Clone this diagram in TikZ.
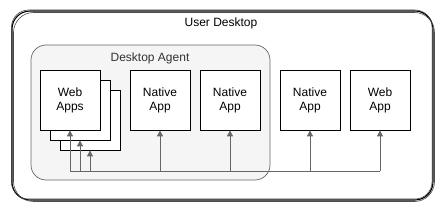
\documentclass[tikz,border=0pt]{standalone}
\usepackage{fontspec}
\setmainfont{Liberation Sans}
\usetikzlibrary{arrows.meta}
\definecolor{conncol}{HTML}{666666}
\definecolor{agentfill}{HTML}{F5F5F5}
\definecolor{agenttext}{HTML}{333333}
\tikzset{
  appbox/.style={draw=black, fill=white, line width=0.8pt, minimum width=60pt, minimum height=60pt, inner sep=0pt, align=center, font=\fontsize{12}{14}\selectfont},
  conn/.style={draw=conncol, line width=0.8pt, -{Triangle[length=6pt,width=6pt]}},
  connline/.style={draw=conncol, line width=0.8pt},
}
\begin{document}
\begin{tikzpicture}[x=1pt,y=-1pt]
\useasboundingbox (0,0) rectangle (442,211);
% outer sketchy container
\draw[black, line width=1.1pt, rounded corners=18pt] (12,11) rectangle (433,200);
\draw[black!70, line width=0.6pt, rounded corners=20pt] (13.5,12.5) rectangle (434.5,201.5);
\draw[black!80, line width=0.5pt, rounded corners=17pt] (11.5,10) rectangle (432,199);
\node[font=\fontsize{12}{14}\selectfont] (user) at (221,23) {User Desktop};
% agent
\draw[draw=conncol, fill=agentfill, line width=0.7pt, rounded corners=15pt] (31,45) rectangle (270,180);
\node[font=\fontsize{12}{14}\selectfont, text=agenttext] (agent) at (150,58) {Desktop Agent};
% web apps stack
\node[appbox] (w3) at (90,120) {};
\node[appbox] (w2) at (80,110) {};
\node[appbox] (w1) at (70,100) {Web\\Apps};
\node[appbox] (n1) at (160,100) {Native\\App};
\node[appbox] (n2) at (230,100) {Native\\App};
\node[appbox] (n3) at (310,100) {Native\\App};
\node[appbox] (wa) at (380,100) {Web\\App};
% bus
\coordinate (busL) at (70,171);
\coordinate (busR) at (380,171);
\draw[connline] (busL) -- (busR);
\draw[conn] (busL) -- (w1.south);
\draw[conn] (80,171) -- (w2.south);
\draw[conn] (90,171) -- (w3.south);
\draw[conn] (160,171) -- (n1.south);
\draw[conn] (230,171) -- (n2.south);
\draw[conn] (310,171) -- (n3.south);
\draw[conn] (busR) -- (wa.south);
\end{tikzpicture}
\end{document}
